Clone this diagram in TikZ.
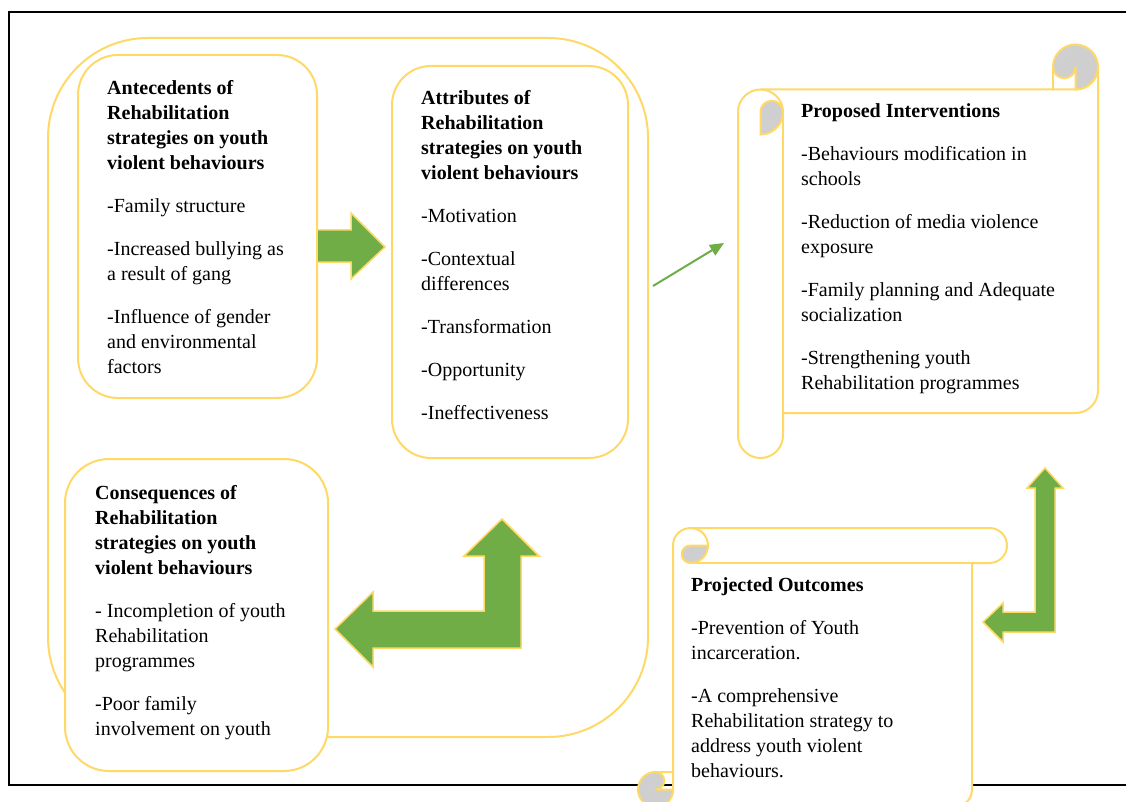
\documentclass[tikz,border=0pt]{standalone}
\usepackage{fontspec}
\setmainfont{Liberation Serif}
\usetikzlibrary{arrows.meta}
\definecolor{gold}{HTML}{FFD966}
\definecolor{leaf}{HTML}{70AD47}
\definecolor{curl}{HTML}{CFCFCF}
\begin{document}
\begin{tikzpicture}[x=1pt,y=-1pt,
  frame/.style={draw=gold, line width=2pt},
  box/.style={frame, fill=white},
  blockarrow/.style={fill=leaf, draw=gold, line width=1.5pt, line join=miter},
  curlfill/.style={fill=curl, draw=gold, line width=2pt},
  txt/.style={anchor=north west, align=left, inner sep=0pt, font=\fontsize{20}{25}\selectfont},
  thinarrow/.style={draw=leaf, line width=2pt, -{Triangle[length=14pt,width=12pt]}}]
\clip (0,0) rectangle (1126,802);
\fill[white] (0,0) rectangle (1126,802);
% black frame
\draw[line width=2pt] (1130,12) -- (9,12) -- (9,785) -- (1130,785);
% outer rounded frame
\draw[frame, rounded corners=100pt] (48,38) rectangle (648,737);
% boxes
\draw[box, rounded corners=40pt] (78,55) rectangle (317,398);
\draw[box, rounded corners=39pt] (392,66) rectangle (628,458);
\draw[box, rounded corners=44pt] (65,459) rectangle (328,771);
% block arrows
\draw[blockarrow] (317,230) -- (351,230) -- (351,213) -- (385,247) -- (351,279) -- (351,262) -- (317,262) -- cycle;
\draw[blockarrow] (335,629) -- (373,592) -- (373,611) -- (484,611) -- (484,556) -- (464,556) -- (502,519) -- (539,556) -- (521,556) -- (521,648) -- (373,648) -- (373,667) -- cycle;
\draw[blockarrow] (983,622) -- (1003,603) -- (1003,612) -- (1035,612) -- (1035,488) -- (1027,488) -- (1045,468) -- (1063,488) -- (1055,488) -- (1055,632) -- (1003,632) -- (1003,642) -- cycle;
% thin arrow
\coordinate (ga) at (653,286);
\coordinate (gb) at (724,243);
\draw[thinarrow] (ga) -- (gb);
% vertical scroll (Proposed Interventions)
\filldraw[box] (738,112) arc[start angle=180,end angle=270,radius=22.5] -- (1075.5,89.5) arc[start angle=90,end angle=0,radius=22.5] -- (1098,390.5) arc[start angle=0,end angle=90,radius=22.5] -- (783,413) -- (783,435.5) arc[start angle=0,end angle=180,radius=22.5] -- cycle;
\draw[frame] (783,112) -- (783,413);
\draw[frame] (760.5,89.5) arc[start angle=270,end angle=360,radius=22.5];
\filldraw[curlfill] (1053,67) arc[start angle=180,end angle=450,radius=22.5] -- (1075.5,67) arc[start angle=0,end angle=180,radius=11.25] -- cycle;
\draw[frame] (1053,67) -- (1053,89.5);
\filldraw[curlfill] (760.5,112) arc[start angle=180,end angle=360,radius=11.25] arc[start angle=0,end angle=90,radius=22.5] -- cycle;
% horizontal scroll (Projected Outcomes)
\filldraw[box] (690.5,528) -- (989.5,528) arc[start angle=270,end angle=450,radius=17.5] -- (972,563) -- (972,789.5) arc[start angle=0,end angle=90,radius=17.5] -- (655.5,807) arc[start angle=90,end angle=0,radius=17.5] -- (673,545.5) arc[start angle=180,end angle=270,radius=17.5] -- cycle;
\draw[frame] (690.5,563) -- (972,563);
\draw[frame] (690.5,528) arc[start angle=270,end angle=360,radius=17.5];
\filldraw[curlfill] (690.5,545.5) arc[start angle=270,end angle=90,radius=8.75] arc[start angle=90,end angle=0,radius=17.5] -- cycle;
\filldraw[curlfill] (655.5,772) arc[start angle=270,end angle=0,radius=17.5] -- (655.5,789.5) arc[start angle=90,end angle=-90,radius=8.75] -- cycle;
\draw[frame] (655.5,772) -- (673,772);
% texts
\node[txt] (ante) at (107,76.5) {\strut\textbf{Antecedents of}\\\textbf{Rehabilitation}\\\textbf{strategies on youth}\\\textbf{violent behaviours}\\[18pt]-Family structure\\[18pt]-Increased bullying as\\a result of gang\\[18pt]-Influence of gender\\and environmental\\factors};
\node[txt] (attr) at (421,86.5) {\strut\textbf{Attributes of}\\\textbf{Rehabilitation}\\\textbf{strategies on youth}\\\textbf{violent behaviours}\\[18pt]-Motivation\\[18pt]-Contextual\\differences\\[18pt]-Transformation\\[18pt]-Opportunity\\[18pt]-Ineffectiveness};
\node[txt] (cons) at (95,481.5) {\strut\textbf{Consequences of}\\\textbf{Rehabilitation}\\\textbf{strategies on youth}\\\textbf{violent behaviours}\\[18pt]- Incompletion of youth\\Rehabilitation\\programmes\\[18pt]-Poor family\\involvement on youth};
\node[txt] (prop) at (801,99.5) {\strut\textbf{Proposed Interventions}\\[18pt]-Behaviours modification in\\schools\\[18pt]-Reduction of media violence\\exposure\\[18pt]-Family planning and Adequate\\socialization\\[18pt]-Strengthening youth\\Rehabilitation programmes};
\node[txt] (proj) at (691,573.5) {\strut\textbf{Projected Outcomes}\\[18pt]-Prevention of Youth\\incarceration.\\[18pt]-A comprehensive\\Rehabilitation strategy to\\address youth violent\\behaviours.};
\end{tikzpicture}
\end{document}
